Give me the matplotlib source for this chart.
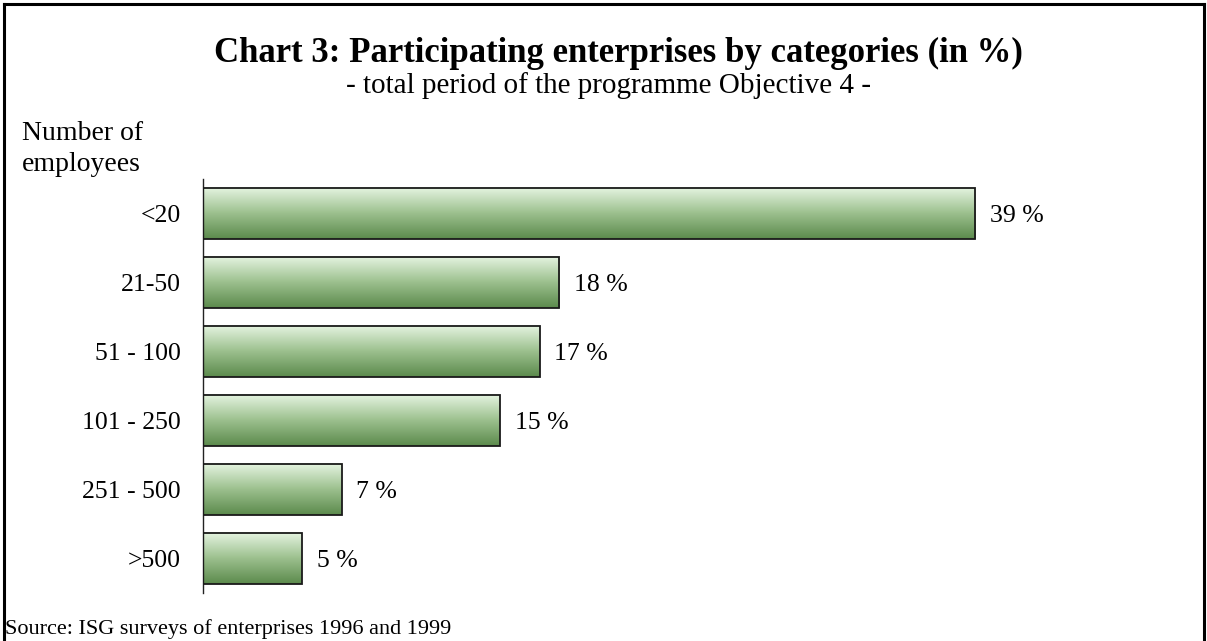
import numpy as np
import matplotlib
matplotlib.use("Agg")
import matplotlib.pyplot as plt
from matplotlib.colors import LinearSegmentedColormap
from matplotlib.lines import Line2D

categories = ["<20", "21-50", "51 - 100", "101 - 250", "251 - 500", ">500"]
values = [39, 18, 17, 15, 7, 5]
value_labels = ["39 %", "18 %", "17 %", "15 %", "7 %", "5 %"]

title = "Chart 3: Participating enterprises by categories (in %)"
subtitle = "- total period of the programme Objective 4 -"
ylabel = "Number of\nemployees"
source = "Source: ISG surveys of enterprises 1996 and 1999"

plt.rcParams['font.family'] = ['Liberation Serif', 'DejaVu Serif']

W, H = 1207, 641
fig = plt.figure(figsize=(W / 100, H / 100), dpi=100)

def fx(px):
    return px / W

def fy(py):
    return 1 - py / H

ax_left, ax_right, ax_top, ax_bottom = 203, 1094, 179, 593
ax = fig.add_axes([fx(ax_left), fy(ax_bottom), fx(ax_right - ax_left), (ax_bottom - ax_top) / H])

n = len(categories)
ypos = np.arange(n)[::-1]
bar_h = 0.75
bars = ax.barh(ypos, values, height=bar_h, facecolor="none",
               edgecolor="#1a1a1a", linewidth=1.3, zorder=3)

cmap = LinearSegmentedColormap.from_list("g", ["#5b8a4c", "#9cc08e", "#e6f5e2"])
grad = np.linspace(0, 1, 256).reshape(-1, 1)
for b in bars:
    x0, y0 = b.get_x(), b.get_y()
    ax.imshow(grad, extent=[x0, x0 + b.get_width(), y0, y0 + b.get_height()],
              origin="lower", aspect="auto", cmap=cmap, zorder=2,
              interpolation="bilinear")

for b, lab in zip(bars, value_labels):
    ax.text(b.get_width() + 0.75, b.get_y() + b.get_height() / 2, lab,
            va="center_baseline", ha="left", fontsize=18.5)

ax.set_xlim(0, 45)
ax.set_ylim(-0.5, n - 0.5)
ax.set_yticks(ypos)
ax.set_yticklabels(categories, fontsize=18.5, va="center_baseline")
ax.tick_params(axis="y", length=0, pad=16)
ax.set_xticks([])
for s in ["top", "right", "bottom"]:
    ax.spines[s].set_visible(False)
ax.spines["left"].set_linewidth(1.0)
ax.spines["left"].set_color("#222222")
ax.set_facecolor("none")

fig.text(0.5 * (fx(215) + fx(1022)), fy(53), title, ha="center", va="center",
         fontsize=25, fontweight="bold")
fig.text(0.5 * (fx(340) + fx(877)), fy(86), subtitle, ha="center", va="center",
         fontsize=21)
fig.text(fx(22), fy(149), ylabel, ha="left", va="center", fontsize=20,
         linespacing=1.3)
fig.text(fx(5), fy(629), source, ha="left", va="center", fontsize=16)

lw = 2.2
fig.add_artist(Line2D([fx(3.5), fx(3.5)], [0, fy(3.5)], color="black", lw=lw,
                      transform=fig.transFigure, solid_capstyle="projecting"))
fig.add_artist(Line2D([fx(3.5), fx(1204)], [fy(3.5), fy(3.5)], color="black", lw=lw,
                      transform=fig.transFigure, solid_capstyle="projecting"))
fig.add_artist(Line2D([fx(1204), fx(1204)], [fy(3.5), 0], color="black", lw=lw,
                      transform=fig.transFigure, solid_capstyle="projecting"))

fig.savefig("out.png", dpi=100)
